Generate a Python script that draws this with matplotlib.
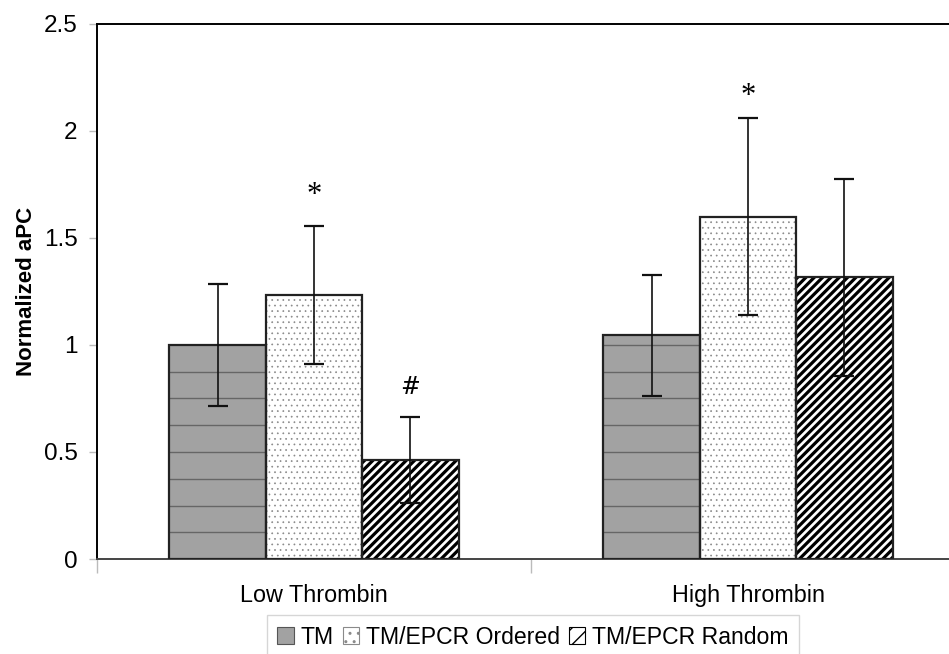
import matplotlib.pyplot as plt
import numpy as np

plt.rcParams['font.family'] = ['Liberation Sans', 'DejaVu Sans']

groups = ['Low Thrombin', 'High Thrombin']
series = ['TM', 'TM/EPCR Ordered', 'TM/EPCR Random']
means = {
    'TM': [1.00, 1.045],
    'TM/EPCR Ordered': [1.235, 1.60],
    'TM/EPCR Random': [0.462, 1.316],
}
errors = {
    'TM': [0.285, 0.283],
    'TM/EPCR Ordered': [0.322, 0.46],
    'TM/EPCR Random': [0.20, 0.46],
}
# significance marks: (group, series, symbol, height of the symbol)
marks = [(0, 'TM/EPCR Ordered', '*', 1.70), (0, 'TM/EPCR Random', '#', 0.80),
         (1, 'TM/EPCR Ordered', '*', 2.16)]

fig = plt.figure(figsize=(9.49, 6.54), dpi=100)
ax = fig.add_axes([97 / 949, 1 - 559 / 654, 868 / 949, 535 / 654])

x = np.arange(len(groups))
w = 0.222
offsets = [-w, 0, w]
styles = {
    'TM': dict(face='#a2a2a2', hatch=None, hcol='#a2a2a2', hlw=1.0),
    'TM/EPCR Ordered': dict(face='white', hatch='...', hcol='#8a8a8a', hlw=0.5),
    'TM/EPCR Random': dict(face='white', hatch='////', hcol='black', hlw=2.3),
}

handles = []
for s, off in zip(series, offsets):
    st = styles[s]
    with plt.rc_context({'hatch.linewidth': st['hlw']}):
        fill = ax.bar(x + off, means[s], w, color=st['face'], hatch=st['hatch'],
                      edgecolor=st['hcol'], linewidth=0, zorder=2)
    for p in fill:
        if hasattr(p, 'set_hatch_linewidth'):
            p.set_hatch_linewidth(st['hlw'])
    if s == 'TM':
        # horizontal rules across the grey bars
        for xi, m in zip(x + off, means[s]):
            lv = np.arange(0.125, m, 0.125)
            ax.hlines(lv, xi - w / 2, xi + w / 2, color='#666666', lw=1.0, zorder=3)
    ax.bar(x + off, means[s], w, fill=False, edgecolor='#222222', linewidth=1.6, zorder=4)
    ax.errorbar(x + off, means[s], yerr=errors[s], fmt='none', ecolor='#111111',
                elinewidth=1.2, capsize=7, capthick=1.6, zorder=5)
    with plt.rc_context({'hatch.linewidth': min(st['hlw'], 1.2)}):
        h = plt.Rectangle((0, 0), 1, 1, facecolor=st['face'],
                          hatch=st['hatch'][:2] if st['hatch'] else None,
                          edgecolor=st['hcol'] if st['hatch'] else '#555555', linewidth=0.8)
    handles.append(h)

for g, s, sym, yy in marks:
    i = series.index(s)
    ax.text(x[g] + offsets[i], yy, sym, ha='center', va='center',
            fontsize=17 if sym == '#' else 22,
            family='DejaVu Serif' if sym == '#' else 'Liberation Serif')

ax.set_xlim(-0.5, 1.5)
ax.set_ylim(0, 2.5)
ax.set_yticks(np.arange(0, 2.51, 0.5))
ax.set_yticklabels(['0', '0.5', '1', '1.5', '2', '2.5'], fontsize=17.5)
ax.set_xticks([-0.5, 0.5, 1.5], minor=False)
ax.set_xticklabels([])
ax.set_xticks(x, minor=True)
ax.set_xticklabels(groups, minor=True, fontsize=16.8)
ax.tick_params(axis='x', which='minor', length=0, pad=18)
ax.tick_params(axis='x', which='major', length=10, color='#bbbbbb', width=1)
ax.tick_params(axis='y', length=6, color='#bbbbbb', width=1, pad=8)
ax.set_ylabel('Normalized aPC', fontsize=16, fontweight='bold', labelpad=5)

for side in ['left', 'top']:
    ax.spines[side].set_color('black')
    ax.spines[side].set_linewidth(1.4)
ax.spines['bottom'].set_color('#444444')
ax.spines['bottom'].set_linewidth(1.4)
ax.spines['right'].set_visible(False)

leg = fig.legend(handles, series, loc='center', bbox_to_anchor=(533 / 949, 1 - 637 / 654),
                 ncol=3, fontsize=16.6, frameon=True, fancybox=False, handlelength=0.7,
                 handleheight=0.7, handletextpad=0.3, columnspacing=0.4,
                 borderpad=0.45)
leg.get_frame().set_edgecolor('#cccccc')
leg.get_frame().set_linewidth(1.0)

fig.savefig('out.png', dpi=100)
